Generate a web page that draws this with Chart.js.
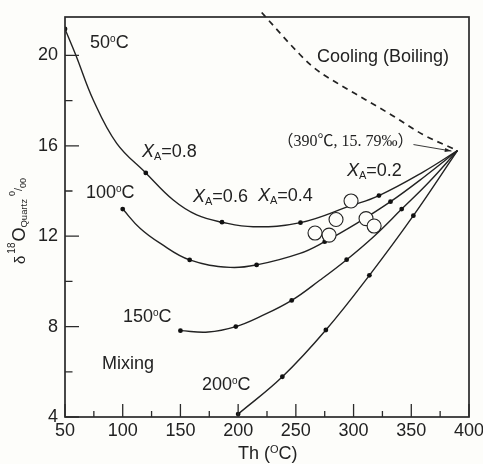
<!DOCTYPE html>
<html><head><meta charset="utf-8">
<script src="https://cdn.jsdelivr.net/npm/chart.js@4/dist/chart.umd.min.js"></script>
<style>html,body{margin:0;padding:0;background:#fdfdfa;}#wrap{width:483px;height:464px;position:relative;}</style>
</head><body><div id="wrap"><canvas id="c" width="483" height="464"></canvas></div>
<script>
// ---- data ----
const xTicks = [50, 100, 150, 200, 250, 300, 350, 400];
const xMinorTicks = [75, 125, 175, 225, 275, 325, 375];
const yTicks = [4, 8, 12, 16, 20];
const yMinorTicks = [6, 10, 14, 18];

const curve50 = [[50,21.17],[59.5,20.0],[74.5,18.03],[94.8,16.11],[120,14.8],[143.8,13.6],[164.1,12.94],[186,12.62],[213,12.42],[254,12.6],[297,13.34],[322,13.8],[360.5,14.85],[390,15.79]];
const curve100 = [[100,13.2],[115,12.35],[132.3,11.69],[158,10.95],[193,10.62],[216,10.73],[253.6,11.24],[275,11.76],[302.7,12.57],[332,13.53],[360.5,14.6],[390,15.79]];
const curve150 = [[150,7.82],[174,7.76],[198,8.0],[219,8.44],[246.4,9.16],[271,10.06],[294,10.96],[317.8,12.0],[341.7,13.2],[365.4,14.4],[390,15.79]];
const curve200 = [[200,4.13],[238.3,5.78],[276,7.85],[313.7,10.27],[351.8,12.91],[390,15.79]];

const dots50 = [[50,21.17],[120,14.8],[186,12.62],[254,12.6],[322,13.8]];
const dots100 = [[100,13.2],[158,10.95],[216,10.73],[275,11.76],[332,13.53]];
const dots150 = [[150,7.82],[198,8.0],[246.4,9.16],[294,10.96],[341.7,13.2]];
const dots200 = [[200,4.13],[238.3,5.78],[276,7.85],[313.7,10.27],[351.8,12.91]];

const samples = [[266.6,12.14],[278.8,12.05],[284.8,12.74],[297.8,13.56],[310.8,12.78],[317.8,12.45]];
const boiling = [[220.4,21.9],[230,21.35],[241,20.72],[252,20.12],[262.3,19.6],[273,19.18],[285,18.8],[310,18.05],[335,17.3],[360,16.5],[390,15.79]];
const endPoint = [390, 15.79];

const curveLabels = ['50', '100', '150', '200'];
const fractionLabels = ['0.8', '0.6', '0.4', '0.2'];

// ---- styling / annotation anchors (data coords) ----
const FONT = "'Liberation Sans', Arial, Helvetica, sans-serif";
const INK = '#222';
const pts = a => a.map(([x, y]) => ({x, y}));

const annotations = [
  {x: 71.7, y: 20.33, kind: 'temp', t: curveLabels[0]},
  {x: 68.2, y: 13.69, kind: 'temp', t: curveLabels[1]},
  {x: 100.2, y: 8.22, kind: 'temp', t: curveLabels[2]},
  {x: 168.7, y: 5.19, kind: 'temp', t: curveLabels[3]},
  {x: 116.7, y: 15.5, kind: 'xa', t: fractionLabels[0]},
  {x: 160.9, y: 13.51, kind: 'xa', t: fractionLabels[1]},
  {x: 217.2, y: 13.54, kind: 'xa', t: fractionLabels[2]},
  {x: 294.3, y: 14.66, kind: 'xa', t: fractionLabels[3]},
  {x: 82.1, y: 6.11, kind: 'plain', t: 'Mixing'},
  {x: 268.3, y: 19.73, kind: 'plain', t: 'Cooling (Boiling)'}
];

function drawRich(ctx, x, y, parts) {
  let cx = x;
  parts.forEach(p => {
    ctx.font = (p.italic ? 'italic ' : '') + p.size + 'px ' + (p.family || FONT);
    ctx.fillText(p.t, cx, y + (p.dy || 0));
    cx += ctx.measureText(p.t).width + (p.gap || 0);
  });
  return cx;
}

const decor = {
  id: 'decor',
  beforeDraw(chart) {
    const ctx = chart.ctx;
    ctx.save();
    ctx.fillStyle = '#fdfdfa';
    ctx.fillRect(0, 0, chart.width, chart.height);
    ctx.restore();
  },
  afterDraw(chart) {
    const ctx = chart.ctx;
    const xs = chart.scales.x, ys = chart.scales.y;
    const {left, right, top, bottom} = chart.chartArea;
    ctx.save();
    // frame
    ctx.strokeStyle = '#2a2a2a';
    ctx.lineWidth = 1.7;
    ctx.strokeRect(left, top, right - left, bottom - top);
    // inward ticks
    ctx.lineWidth = 1.3;
    ctx.beginPath();
    xTicks.forEach(v => { const p = xs.getPixelForValue(v); ctx.moveTo(p, bottom); ctx.lineTo(p, bottom - 13); });
    xMinorTicks.forEach(v => { const p = xs.getPixelForValue(v); ctx.moveTo(p, bottom); ctx.lineTo(p, bottom - 6); });
    yTicks.forEach(v => { const p = ys.getPixelForValue(v); ctx.moveTo(left, p); ctx.lineTo(left + 14, p); });
    yMinorTicks.forEach(v => { const p = ys.getPixelForValue(v); ctx.moveTo(left, p); ctx.lineTo(left + 7.5, p); });
    ctx.stroke();

    // annotations
    ctx.fillStyle = INK;
    ctx.textBaseline = 'alphabetic';
    ctx.textAlign = 'left';
    annotations.forEach(a => {
      const px = xs.getPixelForValue(a.x), py = ys.getPixelForValue(a.y);
      if (a.kind === 'temp') {
        drawRich(ctx, px, py, [{t: a.t, size: 18}, {t: 'o', size: 10, dy: -6}, {t: 'C', size: 18}]);
      } else if (a.kind === 'xa') {
        drawRich(ctx, px, py, [{t: 'X', size: 18, italic: true}, {t: 'A', size: 11, dy: 3}, {t: '=' + a.t, size: 18}]);
      } else {
        drawRich(ctx, px, py, [{t: a.t, size: 18}]);
      }
    });

    // end point note + arrow
    const ex = xs.getPixelForValue(endPoint[0]), ey = ys.getPixelForValue(endPoint[1]);
    const noteX = xs.getPixelForValue(234), noteY = ys.getPixelForValue(15.97);
    ctx.fillStyle = INK;
    drawRich(ctx, noteX, noteY, [{t: '（390℃, 15. 79‰）', size: 16, family: "'Liberation Serif', 'Noto Sans CJK SC', serif"}]);
    const tipX = ex - 6, tipY = ey + 0.5, sx = ex - 44, sy = ey - 6;
    ctx.strokeStyle = INK;
    ctx.lineWidth = 0.9;
    ctx.beginPath(); ctx.moveTo(sx, sy); ctx.lineTo(tipX, tipY); ctx.stroke();
    const ang = Math.atan2(tipY - sy, tipX - sx);
    ctx.beginPath();
    ctx.moveTo(tipX, tipY);
    ctx.lineTo(tipX - 7 * Math.cos(ang - 0.3), tipY - 7 * Math.sin(ang - 0.3));
    ctx.lineTo(tipX - 7 * Math.cos(ang + 0.3), tipY - 7 * Math.sin(ang + 0.3));
    ctx.closePath(); ctx.fill();

    // x axis title: Th (°C)
    ctx.fillStyle = INK;
    drawRich(ctx, 238, 459, [{t: 'Th (', size: 18}, {t: 'O', size: 11, dy: -6}, {t: 'C)', size: 18}]);

    // y axis title rotated: δ 18O Quartz 0/00
    ctx.save();
    ctx.translate(25, 264);
    ctx.rotate(-Math.PI / 2);
    drawRich(ctx, 0, 0, [
      {t: 'δ', size: 15, gap: 2},
      {t: '18', size: 10, dy: -10, gap: 1},
      {t: 'O', size: 18},
      {t: 'Quartz', size: 9.5, dy: 2, gap: 3},
      {t: '0', size: 9, dy: -10},
      {t: '/', size: 11, dy: -3},
      {t: '00', size: 9, dy: 1}
    ]);
    ctx.restore();
    ctx.restore();
  }
};

const datasets = [];
datasets.push({data: pts(samples), showLine: false, pointRadius: 7, pointHoverRadius: 7,
  pointBackgroundColor: '#fdfdfa', pointBorderColor: INK, pointBorderWidth: 1.1});
[dots50, dots100, dots150, dots200].forEach(d => datasets.push({data: pts(d), showLine: false,
  pointRadius: 2.4, pointHoverRadius: 2.4, pointBackgroundColor: '#111', pointBorderWidth: 0}));
[curve50, curve100, curve150, curve200].forEach(c => datasets.push({data: pts(c), showLine: true,
  pointRadius: 0, borderColor: INK, borderWidth: 1.4, tension: 0.4, fill: false}));
datasets.push({data: pts(boiling), showLine: true, pointRadius: 0, borderColor: INK, borderWidth: 1.7,
  borderDash: [6, 5], cubicInterpolationMode: 'monotone', fill: false, clip: false});

new Chart(document.getElementById('c'), {
  type: 'scatter',
  data: {datasets},
  options: {
    responsive: false,
    animation: false,
    events: [],
    layout: {padding: {top: 17, right: 14, left: 0, bottom: 0}},
    plugins: {legend: {display: false}, tooltip: {enabled: false}},
    scales: {
      x: {
        type: 'linear', min: 50, max: 400,
        grid: {display: false, drawTicks: false}, border: {display: false},
        ticks: {font: {family: FONT, size: 18}, color: INK, padding: 3, autoSkip: false, maxRotation: 0},
        afterBuildTicks: s => { s.ticks = xTicks.map(v => ({value: v})); },
        afterFit: s => { s.height = 47; s.paddingLeft = 0; s.paddingRight = 0; }
      },
      y: {
        type: 'linear', min: 4, max: 21.7,
        grid: {display: false, drawTicks: false}, border: {display: false},
        ticks: {font: {family: FONT, size: 18}, color: INK, padding: 7, autoSkip: false},
        afterBuildTicks: s => { s.ticks = yTicks.map(v => ({value: v})); },
        afterFit: s => { s.width = 65; s.paddingTop = 0; s.paddingBottom = 0; }
      }
    }
  },
  plugins: [decor]
});
</script>
</body></html>
